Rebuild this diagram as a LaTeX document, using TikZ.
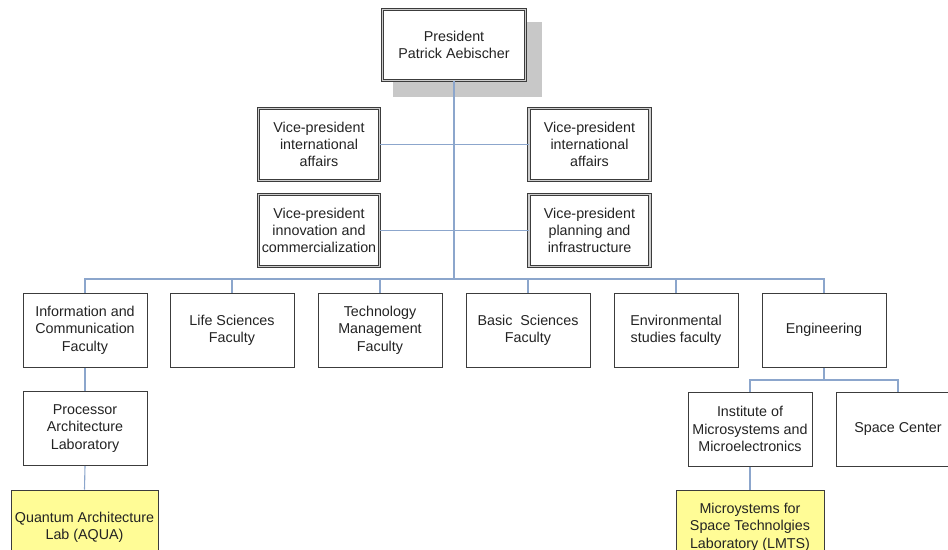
\documentclass[tikz,border=0pt]{standalone}
\usepackage{fontspec}
\setmainfont{Liberation Sans}
\definecolor{wirec}{RGB}{140,166,204}
\definecolor{edgec}{RGB}{60,60,60}
\definecolor{gapc}{RGB}{205,205,205}
\definecolor{inkc}{RGB}{35,35,35}
\definecolor{labfill}{RGB}{255,252,150}
\definecolor{shadec}{RGB}{200,200,200}

\begin{document}
\begin{tikzpicture}[x=1pt,y=-1pt,
  box/.style={draw=edgec, line width=1pt, fill=white, inner sep=0pt,
    minimum width=124pt, minimum height=74pt, align=center, text=inkc,
    font=\fontsize{14.3}{17.3}\selectfont},
  vpbox/.style={box, double=gapc, double distance=1.6pt, line width=0.8pt,
    minimum width=121pt, minimum height=72pt},
  labbox/.style={box, fill=labfill, minimum width=147pt},
  link/.style={draw=wirec, line width=1.1pt}]

\useasboundingbox (0,0) rectangle (948,549);
\clip (0,0) rectangle (948,549);

% shadow behind the president box
\fill[shadec] (393,22) rectangle (542,97);

% top of the hierarchy
\node[vpbox, minimum width=143pt, minimum height=71pt] (pres) at (454,45)
  {President\\Patrick Aebischer};

\node[vpbox] (vpl1) at (319,144.5) {Vice-president\\international\\affairs};
\node[vpbox] (vpl2) at (319,230.5) {Vice-president\\innovation and\\commercialization};
\node[vpbox] (vpr1) at (589.5,144.5) {Vice-president\\international\\affairs};
\node[vpbox] (vpr2) at (589.5,230.5) {Vice-president\\planning and\\infrastructure};

% faculties
\node[box] (f1) at (85,330)  {Information and\\Communication\\Faculty};
\node[box] (f2) at (232,330) {Life Sciences\\Faculty};
\node[box] (f3) at (380,330) {Technology\\Management\\Faculty};
\node[box] (f4) at (528,330) {Basic~~Sciences\\Faculty};
\node[box] (f5) at (676,330) {Environmental\\studies faculty};
\node[box] (f6) at (824,330) {Engineering};

% lower levels
\node[box] (proc)  at (85,428.5)  {Processor\\Architecture\\Laboratory};
\node[box] (inst)  at (750,429)   {Institute of\\Microsystems and\\Microelectronics};
\node[box] (space) at (898,429)   {Space Center};
\node[labbox] (aqua) at (84.5,527) {Quantum Architecture\\Lab (AQUA)};
\node[labbox, minimum width=148pt] (lmts) at (750,527)
  {Microystems for\\Space Technolgies\\Laboratory (LMTS)};

% connectors
\coordinate (bus) at (454,279);
\coordinate (engbus) at (824,380);

\draw[link] (pres.south) -- (bus);
\draw[link] (vpl1.east) -- (vpr1.west);
\draw[link] (vpl2.east) -- (vpr2.west);
\draw[link] (f1.north) |- (bus) -| (f6.north);
\foreach \f in {f2,f3,f4,f5}
  \draw[link] (\f.north) -- (\f.north |- bus);
\draw[link] (f1.south) -- (proc.north);
\draw[link] (proc.south) -- (aqua.north);
\draw[link] (f6.south) -- (engbus);
\draw[link] (inst.north) |- (engbus) -| (space.north);
\draw[link] (inst.south) -- (lmts.north);
\end{tikzpicture}
\end{document}
